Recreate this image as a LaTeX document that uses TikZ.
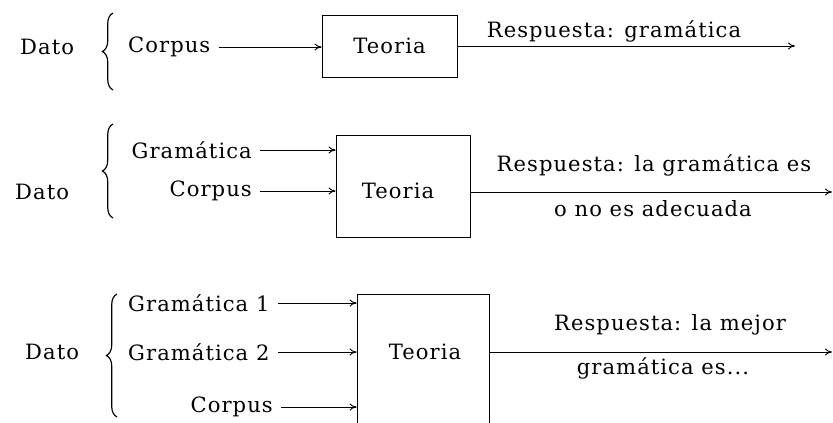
\documentclass[tikz,border=0pt]{standalone}
\usepackage{fontspec}
\setmainfont[LetterSpace=5]{DejaVu Serif}
\usetikzlibrary{arrows.meta,decorations.pathreplacing}
\begin{document}
\begin{tikzpicture}[x=0.03cm,y=-0.03cm,
  every node/.style={font=\fontsize{18}{20}\selectfont, inner sep=0pt},
  boxst/.style={draw, line width=0.8pt},
  arr/.style={-{To[length=6pt,width=6pt]}, line width=0.8pt, shorten <=7pt},
  outarr/.style={-{To[length=6pt,width=6pt]}, line width=0.8pt},
  brc/.style={decorate, decoration={brace, amplitude=9pt}, line width=1pt}]
\useasboundingbox (0,0) rectangle (833,423);
\clip (0,0) rectangle (833,423);

% ---- row 1
\node[anchor=west] (d1) at (20,47) {Dato};
\coordinate (br1a) at (113,90);
\coordinate (br1b) at (113,13);
\draw[brc] (br1a) -- (br1b);
\node[anchor=west] (c1) at (128,47) {Corpus};
\node[boxst, minimum width=4.05cm, minimum height=1.86cm] (b1) at (389.5,46) {Teoria};
\draw[arr] (c1.east) -- (c1.east -| b1.west);
\coordinate (e1) at (795,46);
\draw[outarr] (b1.east) -- (e1);
\node (r1) at (614,31) {Respuesta: gramática};

% ---- row 2
\node[anchor=west] (d2) at (15,192) {Dato};
\coordinate (br2a) at (113,218);
\coordinate (br2b) at (113,124);
\draw[brc] (br2a) -- (br2b);
\node[anchor=east] (g2) at (252,150) {Gramática};
\node[anchor=east] (c2) at (252,191) {Corpus};
\node[boxst, minimum width=4.02cm, minimum height=3.06cm] (b2) at (403,186) {};
\node (t2) at (398,191) {Teoria};
\draw[arr] (g2.east) -- (g2.east -| b2.west);
\draw[arr] (c2.east) -- (c2.east -| b2.west);
\coordinate (e2) at (832,192);
\draw[outarr] (b2.east |- e2) -- (e2);
\node (r2a) at (654,165) {Respuesta: la gramática es};
\node (r2b) at (653,209) {o no es adecuada};

% ---- row 3
\node[anchor=west] (d3) at (25,352) {Dato};
\coordinate (br3a) at (117,417);
\coordinate (br3b) at (117,294);
\draw[brc] (br3a) -- (br3b);
\node[anchor=west] (g31) at (128,303) {Gramática 1};
\node[anchor=west] (g32) at (128,352) {Gramática 2};
\node[anchor=east] (c3) at (273,407) {Corpus};
\node[boxst, minimum width=3.96cm, minimum height=4.5cm] (b3) at (423,369) {};
\node (t3) at (425,352) {Teoria};
\draw[arr] (g31.east) -- (g31.east -| b3.west);
\draw[arr] (g32.east) -- (g32.east -| b3.west);
\draw[arr] (c3.east) -- (c3.east -| b3.west);
\coordinate (e3) at (832,352);
\draw[outarr] (b3.east |- e3) -- (e3);
\node (r3a) at (670,325) {Respuesta: la mejor};
\node (r3b) at (663,368) {gramática es...};
\end{tikzpicture}
\end{document}
